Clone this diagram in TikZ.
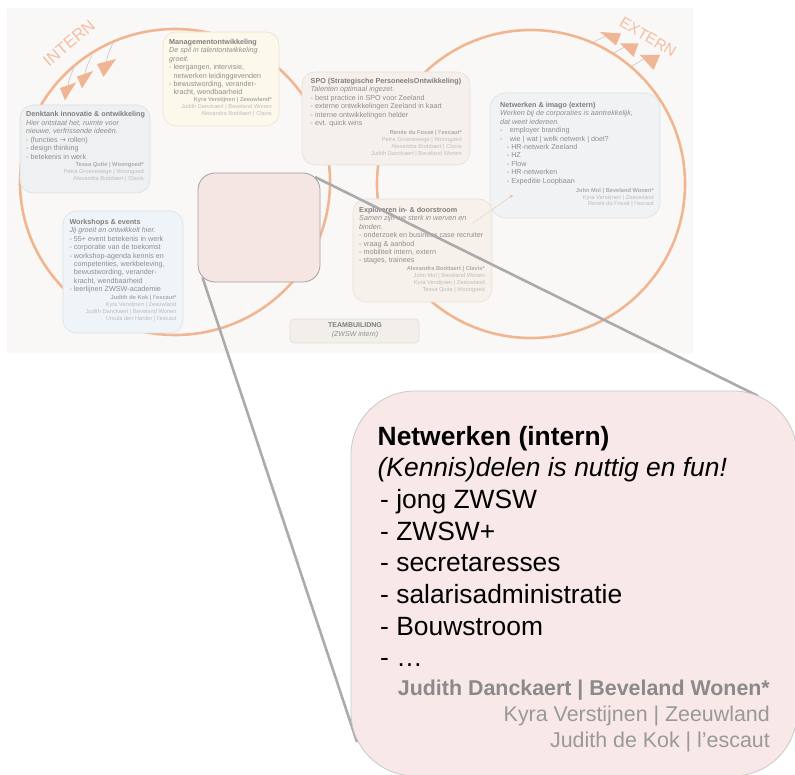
\documentclass[tikz,border=0pt]{standalone}
\usepackage{fontspec}
\setmainfont{Liberation Sans}
\newfontfamily\dejavu{DejaVu Sans}
\usetikzlibrary{arrows.meta}
\definecolor{bgF}{HTML}{F9F8F6}
\definecolor{ringC}{HTML}{F0B692}
\definecolor{ringT}{HTML}{F2BFA4}
\definecolor{triC}{HTML}{F0B594}
\definecolor{tailC}{HTML}{C8C6C4}
\definecolor{denkF}{HTML}{EEF0F1}\definecolor{denkD}{HTML}{DCDFE1}
\definecolor{mgmtF}{HTML}{FCF9EA}\definecolor{mgmtD}{HTML}{E6E3D6}
\definecolor{spoF}{HTML}{F6F0EC}\definecolor{spoD}{HTML}{E7E0DB}
\definecolor{extF}{HTML}{F0F2F3}\definecolor{extD}{HTML}{DDE1E3}
\definecolor{explF}{HTML}{F7F1EC}\definecolor{explD}{HTML}{E7E0DA}
\definecolor{wsF}{HTML}{EEF4F8}\definecolor{wsD}{HTML}{D9E3EA}
\definecolor{teamF}{HTML}{F2EFEB}\definecolor{teamD}{HTML}{E0DCD7}
\definecolor{pinkS}{HTML}{F6E6E3}\definecolor{pinkSD}{HTML}{A0A0A0}
\definecolor{pinkB}{HTML}{F8E8E8}\definecolor{pinkBD}{HTML}{C9C9C9}
\definecolor{ttlC}{HTML}{7E7E7E}
\definecolor{bodyC}{HTML}{8E8E8E}
\definecolor{nmB}{HTML}{ABABAB}
\definecolor{nmC}{HTML}{BDBDBD}
\definecolor{callC}{HTML}{ABABAB}
\definecolor{dotC}{HTML}{EDB79D}
\definecolor{bigNm}{HTML}{8A8A8A}
\definecolor{bigNm2}{HTML}{999999}
\newcommand\llines[1]{\vtop{\lineskiplimit=-100pt\halign{##\hfil\cr#1\crcr}}}
\newcommand\rlines[1]{\vtop{\lineskiplimit=-100pt\halign{\hfil##\cr#1\crcr}}}
\newcommand\clines[1]{\vtop{\lineskiplimit=-100pt\halign{\hfil##\hfil\cr#1\crcr}}}
\tikzset{
  pane/.style={rectangle, rounded corners=#1, line width=0.6pt, inner sep=0pt},
  pane/.default=13pt,
  txt/.style={inner sep=0pt, anchor=base west, text=bodyC, font=\fontsize{7.2}{8.45}\selectfont},
  nm/.style={inner sep=0pt, anchor=base east, text=nmC, font=\fontsize{5.7}{6.7}\selectfont},
  ring/.style={draw=ringC, line width=2.6pt},
  bigword/.style={inner sep=0pt, text=ringT},
  tri/.style={fill=triC, draw=none},
  tail/.style={draw=tailC, line width=0.6pt},
  callout/.style={draw=callC, line width=2.6pt},
  dotarrow/.style={draw=dotC, line width=0.7pt, densely dotted, -{Stealth[length=3.5pt,width=3pt]}}
}
\begin{document}
\begin{tikzpicture}[x=1pt,y=-1pt]
\useasboundingbox (0,0) rectangle (795,775);
\fill[bgF] (7,8) rectangle (693,353);
% rings
\draw[ring] (175,182) ellipse [x radius=155, y radius=153];
\draw[ring] (531,184) circle [radius=154];
% ring labels
\node[bigword, rotate=40, font=\fontsize{16.5}{16.5}\selectfont] (intern) at (69,43) {INTERN};
\node[bigword, rotate=-31, font=\fontsize{15.5}{15.5}\selectfont] (extern) at (648,37) {EXTERN};
% INTERN arrows
\draw[tail] (68,85) .. controls (69,78) and (72,73) .. (74,67);
\draw[tail] (85,74) .. controls (86,67) and (89,62) .. (92,55);
\draw[tail] (106.5,62) .. controls (107,55) and (110,50) .. (113,43);
\fill[tri] (60,88) -- (76,82.5) -- (65,100.5) -- cycle;
\fill[tri] (77,76.5) -- (93,71) -- (82,88.5) -- cycle;
\fill[tri] (97,64) -- (116,59) -- (103.5,77) -- cycle;
% EXTERN arrows
\draw[tail] (594,42) .. controls (599,39) and (603,37) .. (608,36);
\draw[tail] (612,54) .. controls (618,51) and (622,48) .. (627,46);
\draw[tail] (632,66) .. controls (638,63) and (641,60) .. (646,58);
\fill[tri] (600,32) -- (621,33.5) -- (616,45.5) -- cycle;
\fill[tri] (620,43.5) -- (638.5,43.5) -- (633.5,57) -- cycle;
\fill[tri] (640,55) -- (660,55) -- (653.5,70) -- cycle;
% boxes
\node[pane, fill=denkF, draw=denkD, minimum width=130pt, minimum height=88pt] (denk) at (85,149) {};
\node[pane, fill=mgmtF, draw=mgmtD, minimum width=116pt, minimum height=94pt] (mgmt) at (221,79) {};
\node[pane, fill=spoF, draw=spoD, minimum width=168pt, minimum height=93pt] (spo) at (386,118.5) {};
\node[pane=16pt, fill=extF, draw=extD, minimum width=170pt, minimum height=125pt] (ext) at (575,155.5) {};
\node[pane, fill=explF, draw=explD, minimum width=139pt, minimum height=103pt] (expl) at (422.5,250.5) {};
\node[pane, fill=wsF, draw=wsD, minimum width=120pt, minimum height=122pt] (ws) at (123,272) {};
\node[pane=4pt, fill=teamF, draw=teamD, minimum width=129pt, minimum height=24pt] (team) at (354.5,331) {};
% box texts
\node[txt] (denkT) at (26,117) {\llines{\bfseries\color{ttlC}Denktank innovatie \& ontwikkeling\cr
 \itshape Hier ontstaat het, ruimte voor\cr
 \itshape nieuwe, verfrissende ideeën.\cr
 - (functies {\dejavu →} rollen)\cr
 - design thinking\cr
 - betekenis in werk}};
\node[nm] (denkN) at (144,167) {\rlines{\bfseries\color{nmB}Tessa Quite | Woongoed*\cr
 Petra Groenewege | Woongoed\cr
 Alexandra Boddaert | Clavis}};
\node[txt] (mgmtT) at (169,44.3) {\llines{\bfseries\color{ttlC}Managementontwikkeling\cr
 \itshape De spil in talentontwikkeling\cr
 \itshape groeit.\cr
 - leergangen, intervisie,\cr
 \kern4.4pt netwerken leidinggevenden\cr
 - bewustwording, verander-\cr
 \kern4.4pt kracht, wendbaarheid}};
\node[nm] (mgmtN) at (272,101.7) {\rlines{\bfseries\color{nmB}Kyra Verstijnen | Zeeuwland*\cr
 Judith Danckaert | Beveland Wonen\cr
 Alexandra Boddaert | Clavis}};
\node[txt] (spoT) at (310.5,83.3) {\llines{\bfseries\color{ttlC}SPO (Strategische PersoneelsOntwikkeling)\cr
 \itshape Talenten optimaal ingezet.\cr
 - best practice in SPO voor Zeeland\cr
 - externe ontwikkelingen Zeeland in kaart\cr
 - interne ontwikkelingen helder\cr
 - evt. quick wins}};
\node[nm] (spoN) at (462,135) {\rlines{\bfseries\color{nmB}Renée du Fossé | l’escaut*\cr
 Petra Groenewege | Woongoed\cr
 Alexandra Boddaert | Clavis\cr
 Judith Danckaert | Beveland Wonen}};
\node[txt] (extT) at (500,107.3) {\llines{\bfseries\color{ttlC}Netwerken \& imago (extern)\cr
 \itshape Werken bij de corporaties is aantrekkelijk,\cr
 \itshape dat weet iedereen.\cr
 -\kern7.3pt employer branding\cr
 -\kern7.3pt wie | wat | welk netwerk | doel?\cr
 \kern6.7pt - HR-netwerk Zeeland\cr
 \kern6.7pt - HZ\cr
 \kern6.7pt - Flow\cr
 \kern6.7pt - HR-netwerken\cr
 \kern6.7pt - Expeditie Loopbaan}};
\node[nm] (extN) at (654,192.5) {\rlines{\bfseries\color{nmB}John Mol | Beveland Wonen*\cr
 Kyra Verstijnen | Zeeuwland\cr
 Renée du Fossé | l’escaut}};
\node[txt] (explT) at (359,212.3) {\llines{\bfseries\color{ttlC}Exploreren in- \& doorstroom\cr
 \itshape Samen zijn we sterk in werven en\cr
 \itshape binden.\cr
 - onderzoek en business case recruiter\cr
 - vraag \& aanbod\cr
 - mobiliteit intern, extern\cr
 - stages, trainees}};
\node[nm] (explN) at (485,271) {\rlines{\bfseries\color{nmB}Alexandra Boddaert | Clavis*\cr
 John Mol | Beveland Wonen\cr
 Kyra Verstijnen | Zeeuwland\cr
 Tessa Quite | Woongoed}};
\node[txt] (wsT) at (69.3,224.3) {\llines{\bfseries\color{ttlC}Workshops \& events\cr
 \itshape Jij groeit en ontwikkelt hier.\cr
 - 55+ event betekenis in werk\cr
 - corporatie van de toekomst\cr
 - workshop-agenda kennis en\cr
 \kern4.4pt competenties, werkbeleving,\cr
 \kern4.4pt bewustwording, verander-\cr
 \kern4.4pt kracht, wendbaarheid\cr
 - leerlijnen ZWSW-academie}};
\node[nm] (wsN) at (176.7,300) {\rlines{\bfseries\color{nmB}Judith de Kok | l’escaut*\cr
 Kyra Verstijnen | Zeeuwland\cr
 Judith Danckaert | Beveland Wonen\cr
 Ursula den Harder | l’escaut}};
\node[txt, anchor=base, font=\fontsize{7}{9}\selectfont] (teamT) at (355,327.7) {\clines{\bfseries\color{ttlC}TEAMBUILIDNG\cr \itshape (ZWSW intern)}};
% dotted arrow
\coordinate (xa) at (473,223);
\coordinate (xb) at (513,195);
\draw[dotarrow] (xa) -- (xb);
% highlighted small box
\node[pane=17pt, fill=pinkS, draw=pinkSD, line width=0.8pt, minimum width=122pt, minimum height=109pt] (sbox) at (259,227.5) {};
% callout lines
\coordinate (sA) at (315,177);
\coordinate (sB) at (202.5,277.5);
\coordinate (bA) at (758,396);
\coordinate (bB) at (357,742);
\draw[callout] (sA) -- (bA);
\draw[callout] (sB) -- (bB);
% big box
\node[pane=64pt, fill=pinkB, draw=pinkBD, line width=0.8pt, minimum width=446pt, minimum height=385pt] (bbox) at (574,583.5) {};
\node[inner sep=0pt, anchor=base west, text=black, font=\fontsize{26.4}{31.7}\selectfont] (btext) at (377.5,445) {\llines{\bfseries Netwerken (intern)\cr
 \itshape (Kennis)delen is nuttig en fun!\cr
 \kern2.5pt- jong ZWSW\cr
 \kern2.5pt- ZWSW+\cr
 \kern2.5pt- secretaresses\cr
 \kern2.5pt- salarisadministratie\cr
 \kern2.5pt- Bouwstroom\cr
 \kern2.5pt- …}};
\node[inner sep=0pt, anchor=base east, text=bigNm2, font=\fontsize{21.4}{26}\selectfont] (bnames) at (770,695) {\rlines{\bfseries\color{bigNm}Judith Danckaert | Beveland Wonen*\cr
 Kyra Verstijnen | Zeeuwland\cr
 Judith de Kok | l’escaut}};
\end{tikzpicture}
\end{document}
